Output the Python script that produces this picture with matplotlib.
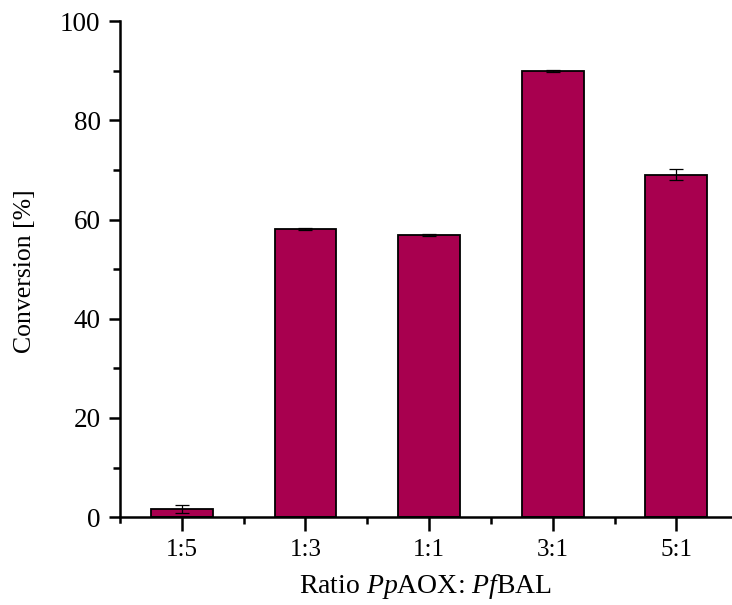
import numpy as np
import matplotlib
matplotlib.use("Agg")
import matplotlib.pyplot as plt
from matplotlib.ticker import MultipleLocator, FixedLocator

# data
ratios = ["1:5", "1:3", "1:1", "3:1", "5:1"]
conversion = [1.6, 58.1, 56.9, 90.0, 69.0]
conv_err = [0.8, 0.2, 0.15, 0.15, 1.1]

plt.rcParams["font.family"] = ["Liberation Serif", "DejaVu Serif"]
plt.rcParams["mathtext.fontset"] = "custom"
plt.rcParams["mathtext.rm"] = "Liberation Serif"
plt.rcParams["mathtext.it"] = "Liberation Serif:italic"

fig = plt.figure(figsize=(7.32, 6.05), dpi=100)
ax = fig.add_axes([0.164, 0.137, 0.836, 0.828])

x = np.arange(1, len(ratios) + 1)
ax.bar(x, conversion, width=0.5, color="#A8004F", edgecolor="black", linewidth=1.3,
       yerr=conv_err, capsize=5, error_kw=dict(ecolor="black", elinewidth=0.9, capthick=0.9),
       zorder=2)

ax.set_xlim(0.5, 5.45)
ax.set_ylim(-1, 100)
ax.spines["top"].set_visible(False)
ax.spines["right"].set_visible(False)
ax.spines["bottom"].set_position(("data", 0))
for s in ("left", "bottom"):
    ax.spines[s].set_linewidth(1.8)

ax.set_xticks(x)
ax.set_xticklabels(ratios)
ax.xaxis.set_minor_locator(FixedLocator(x[:-1] + 0.5))
ax.yaxis.set_major_locator(MultipleLocator(20))
ax.yaxis.set_minor_locator(MultipleLocator(10))
ax.tick_params(axis="both", which="major", direction="out", width=1.8)
ax.tick_params(axis="x", which="major", length=10, pad=6, labelsize=18)
ax.tick_params(axis="y", which="major", length=8, pad=6, labelsize=19.5)
ax.tick_params(axis="both", which="minor", direction="out", width=1.8, length=5)

ax.set_ylabel("Conversion [%]", fontsize=18.5, labelpad=17)
ax.set_xlabel(r"Ratio $\mathit{Pp}$AOX: $\mathit{Pf}$BAL", fontsize=20, labelpad=8)

fig.savefig("out.png", dpi=100)
